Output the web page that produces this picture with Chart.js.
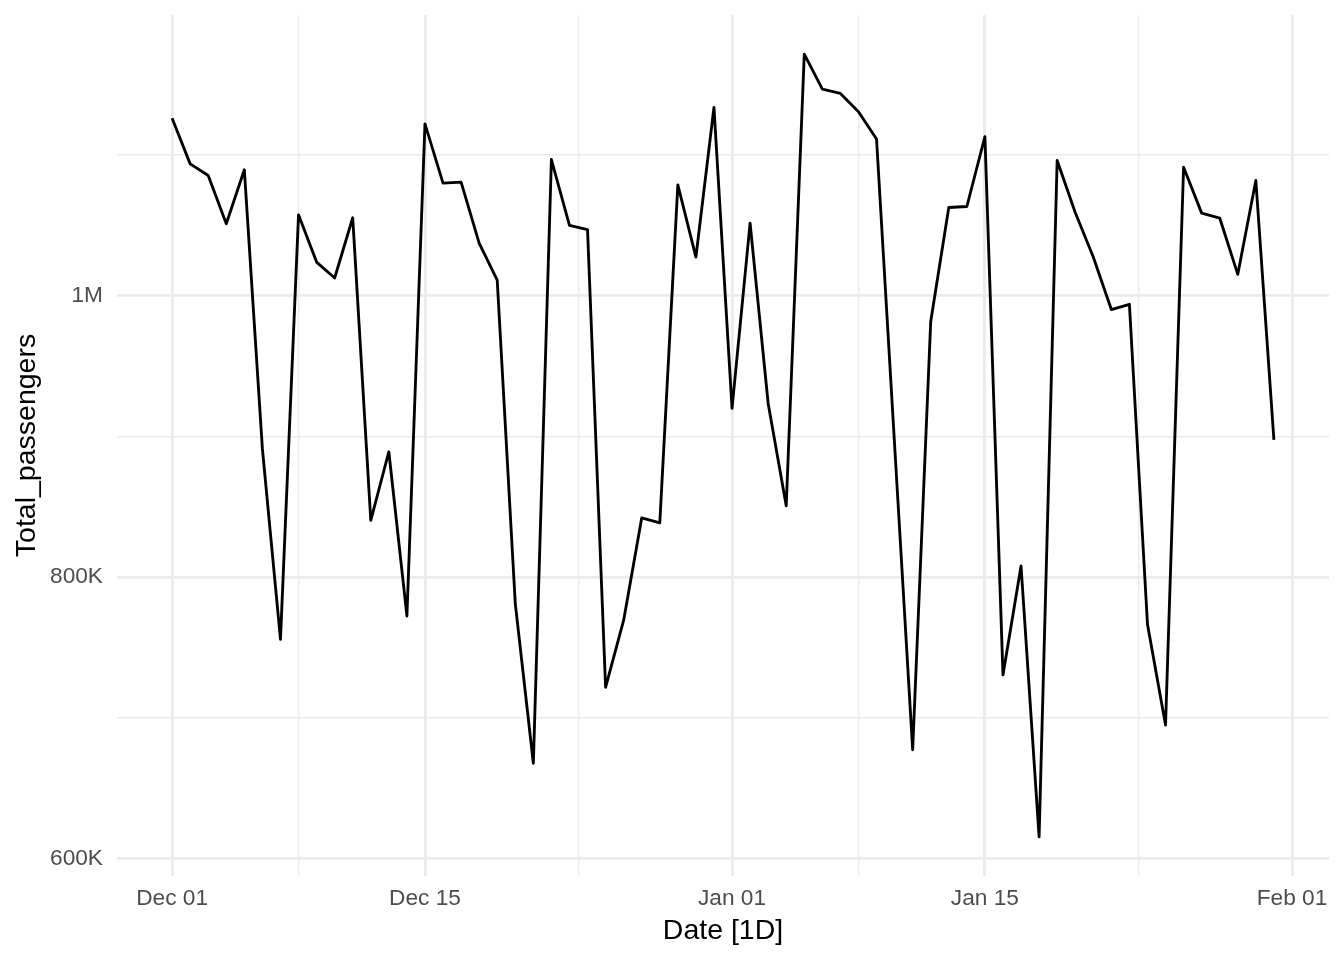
<!DOCTYPE html>
<html>
<head>
<meta charset="utf-8">
<script src="https://cdn.jsdelivr.net/npm/chart.js@4.4.1/dist/chart.umd.min.js"></script>
<style>
  html, body { margin: 0; padding: 0; background: #ffffff; }
  #wrap { width: 1344px; height: 960px; }
</style>
</head>
<body>
<div id="wrap"><canvas id="c" width="1344" height="960"></canvas></div>
<script>
// ---- data ----
const dates = [
  'Dec 01','Dec 02','Dec 03','Dec 04','Dec 05','Dec 06','Dec 07','Dec 08','Dec 09','Dec 10',
  'Dec 11','Dec 12','Dec 13','Dec 14','Dec 15','Dec 16','Dec 17','Dec 18','Dec 19','Dec 20',
  'Dec 21','Dec 22','Dec 23','Dec 24','Dec 25','Dec 26','Dec 27','Dec 28','Dec 29','Dec 30',
  'Dec 31','Jan 01','Jan 02','Jan 03','Jan 04','Jan 05','Jan 06','Jan 07','Jan 08','Jan 09',
  'Jan 10','Jan 11','Jan 12','Jan 13','Jan 14','Jan 15','Jan 16','Jan 17','Jan 18','Jan 19',
  'Jan 20','Jan 21','Jan 22','Jan 23','Jan 24','Jan 25','Jan 26','Jan 27','Jan 28','Jan 29',
  'Jan 30','Jan 31'
];
const totalPassengers = [
  1126000, 1093600, 1085300, 1051100, 1089400,  891000,  755700, 1057400, 1023800, 1012500,
  1055300,  840200,  889000,  772300, 1122000, 1079900, 1080600, 1037300, 1010900,  781100,
   667600, 1096700, 1049900, 1046800,  721600,  769300,  842000,  838500, 1078700, 1027400,
  1133800,  919900, 1051500,  923300,  850600, 1171600, 1146800, 1143700, 1130700, 1111300,
   894000,  677200,  981600, 1062600, 1063300, 1113000,  730400,  807800,  615300, 1096000,
  1059100, 1027400,  990100,  993800,  766400,  694800, 1091200, 1058600, 1055100, 1015100,
  1081800,  897400
];
// x positions are days since Dec 01
const xMajorTicks = [0, 14, 31, 45, 62];
const xMajorLabels = ['Dec 01', 'Dec 15', 'Jan 01', 'Jan 15', 'Feb 01'];
const xMinorTicks = [7, 22.5, 38, 53.5];
const yMajorTicks = [600000, 800000, 1000000];
const yMajorLabels = ['600K', '800K', '1M'];
const yMinorTicks = [700000, 900000, 1100000];

// ---- build ----
const points = totalPassengers.map((v, i) => ({ x: i, y: v }));
const n = dates.length;
const xRange = (n - 1);
const xMin = 0 - 0.05 * xRange, xMax = (n - 1) + 0.05 * xRange;
const vMin = Math.min(...totalPassengers), vMax = Math.max(...totalPassengers);
const yMin = vMin - 0.05 * (vMax - vMin), yMax = vMax + 0.05 * (vMax - vMin);

const GRID = '#EBEBEB';
const MAJOR_W = 2.85, MINOR_W = 1.42;
const FONT = '"Liberation Sans", Arial, Helvetica, sans-serif';
const TICK_SIZE = 22.7, TITLE_SIZE = 28.5;

function gridWidth(majorList) {
  return (ctx) => (ctx.tick && majorList.includes(ctx.tick.value)) ? MAJOR_W : MINOR_W;
}
function noEdgePadding(s) {
  s.paddingTop = 0; s.paddingBottom = 0; s.paddingLeft = 0; s.paddingRight = 0;
}

new Chart(document.getElementById('c'), {
  type: 'line',
  data: {
    datasets: [{
      data: points,
      borderColor: '#000000',
      borderWidth: 2.85,
      pointRadius: 0,
      pointHoverRadius: 0,
      tension: 0,
      fill: false,
      borderJoinStyle: 'round',
      borderCapStyle: 'butt'
    }]
  },
  options: {
    responsive: false,
    animation: false,
    devicePixelRatio: 1,
    events: [],
    layout: { padding: { left: 0, right: 15, top: 15, bottom: 0 } },
    plugins: { legend: { display: false }, tooltip: { enabled: false } },
    scales: {
      x: {
        type: 'linear',
        min: xMin,
        max: xMax,
        afterBuildTicks: (s) => {
          s.ticks = [...xMajorTicks, ...xMinorTicks].sort((a, b) => a - b).map(v => ({ value: v }));
        },
        afterFit: (s) => { s.height = 84; noEdgePadding(s); },
        border: { display: false },
        grid: {
          color: GRID,
          lineWidth: gridWidth(xMajorTicks),
          drawTicks: false
        },
        ticks: {
          autoSkip: false,
          maxRotation: 0,
          padding: 9,
          color: '#4D4D4D',
          font: { family: FONT, size: TICK_SIZE },
          callback: (v) => {
            const k = xMajorTicks.indexOf(v);
            return k >= 0 ? xMajorLabels[k] : '';
          }
        },
        title: {
          display: true,
          text: 'Date [1D]',
          color: '#000000',
          font: { family: FONT, size: TITLE_SIZE },
          padding: { top: 0, bottom: 12 }
        }
      },
      y: {
        type: 'linear',
        min: yMin,
        max: yMax,
        afterBuildTicks: (s) => {
          s.ticks = [...yMajorTicks, ...yMinorTicks].sort((a, b) => a - b).map(v => ({ value: v }));
        },
        afterFit: (s) => { s.width = 117; noEdgePadding(s); },
        border: { display: false },
        grid: {
          color: GRID,
          lineWidth: gridWidth(yMajorTicks),
          drawTicks: false
        },
        ticks: {
          autoSkip: false,
          padding: 14,
          color: '#4D4D4D',
          font: { family: FONT, size: TICK_SIZE },
          callback: (v) => {
            const k = yMajorTicks.indexOf(v);
            return k >= 0 ? yMajorLabels[k] : '';
          }
        },
        title: {
          display: true,
          text: 'Total_passengers',
          color: '#000000',
          font: { family: FONT, size: TITLE_SIZE },
          padding: { top: 10.5, bottom: 0 }
        }
      }
    }
  }
});
</script>
</body>
</html>
